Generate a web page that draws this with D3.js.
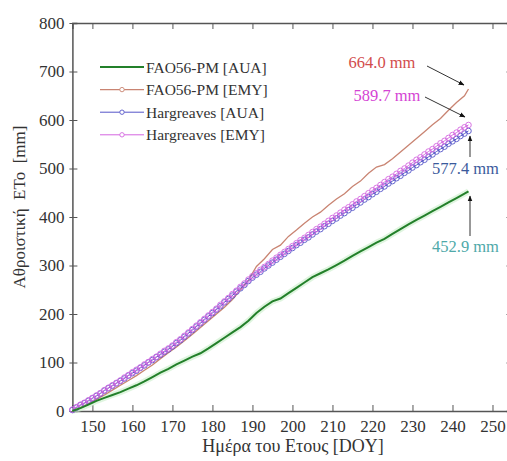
<!DOCTYPE html>
<html>
<head>
<meta charset="utf-8">
<script src="https://cdn.jsdelivr.net/npm/d3@7"></script>
<style>
  body { margin: 0; background: #fff; }
  svg text { font-family: "Liberation Serif", "DejaVu Serif", serif; }
  .axis path, .axis line { stroke: #555; }
  .axis text { font-size: 17px; fill: #333; }
</style>
</head>
<body>
<div id="chart"></div>
<script>
// Days of year for the daily Hargreaves series
const hgDays = d3.range(145, 245);

// Hargreaves [AUA], cumulative ETo (mm)
const hgAua = [
  2, 7, 12, 16, 21, 26, 31, 36, 42, 47,
  52, 57, 62, 67, 73, 78, 83, 89, 94, 100,
  105, 111, 116, 122, 127, 133, 140, 146, 153, 160,
  167, 174, 181, 188, 195, 202, 209, 216, 224, 231,
  238, 246, 253, 260, 268, 275, 281, 287, 294, 300,
  306, 312, 318, 324, 330, 336, 342, 347, 353, 358,
  364, 370, 375, 381, 386, 392, 397, 403, 408, 414,
  419, 425, 430, 436, 441, 447, 452, 458, 463, 469,
  474, 480, 485, 491, 496, 502, 507, 513, 518, 524,
  529, 535, 540, 545, 551, 556, 561, 567, 572, 577.4
];

// Hargreaves [EMY], cumulative ETo (mm)
const hgEmy = [
  3, 8, 13, 17, 22, 27, 32, 37, 43, 48,
  53, 58, 63, 69, 74, 80, 85, 90, 96, 101,
  107, 112, 118, 124, 129, 135, 142, 148, 155, 162,
  169, 176, 183, 190, 197, 204, 211, 219, 226, 233,
  241, 248, 256, 263, 271, 278, 284, 291, 297, 303,
  310, 316, 322, 328, 334, 340, 346, 352, 357, 363,
  369, 375, 380, 386, 392, 398, 403, 409, 415, 420,
  426, 432, 437, 443, 449, 455, 460, 466, 472, 478,
  483, 489, 495, 500, 506, 512, 518, 523, 529, 535,
  540, 546, 552, 557, 563, 569, 574, 580, 585, 589.7
];

// Days of year for the FAO56-PM series
const faoDays = [145, 147, 149, 151, 153, 155, 157, 159, 161, 163, 165, 167, 169, 171, 173,
  175, 177, 179, 181, 183, 185, 187, 189, 191, 193, 195, 197, 199, 201, 203, 205,
  207, 209, 211, 213, 215, 217, 219, 221, 223, 225, 227, 229, 231, 233, 235, 237,
  239, 241, 243, 244];

// FAO56-PM [AUA]
const faoAua = [0, 6, 13, 21, 27, 33, 39, 46, 53, 61, 70, 79, 87, 96, 104,
  112, 119, 129, 140, 151, 162, 173, 186, 202, 215, 226, 232, 243, 254, 265, 276,
  284, 292, 301, 310, 320, 329, 338, 347, 355, 365, 375, 385, 394, 403, 412, 421,
  430, 439, 448, 452.9];

// FAO56-PM [EMY]
const faoEmy = [0, 7, 15, 24, 33, 43, 53, 63, 73, 84, 95, 108, 120, 132, 145,
  158, 172, 186, 200, 214, 230, 250, 270, 298, 314, 333, 342, 360, 373, 387, 400,
  410, 424, 437, 448, 463, 474, 490, 503, 508, 520, 534, 548, 562, 576, 590, 603,
  620, 636, 650, 664.0];

const xTicks = [150, 160, 170, 180, 190, 200, 210, 220, 230, 240, 250];
const yTicks = [0, 100, 200, 300, 400, 500, 600, 700, 800];

const series = [
  { name: "FAO56-PM [AUA]", days: faoDays, values: faoAua, color: "#23802a", width: 2, marker: false },
  { name: "FAO56-PM [EMY]", days: faoDays, values: faoEmy, color: "#c98472", width: 1.3, marker: false },
  { name: "Hargreaves [AUA]", days: hgDays, values: hgAua, color: "#5555c8", width: 1, marker: true },
  { name: "Hargreaves [EMY]", days: hgDays, values: hgEmy, color: "#d466e0", width: 1, marker: true }
];

const width = 507, height = 461;

const svg = d3.select("#chart").append("svg")
  .attr("width", width)
  .attr("height", height);

svg.append("rect").attr("width", width).attr("height", height).attr("fill", "#fff");

// plot box runs past the right edge of the window, as in the original crop
const x = d3.scaleLinear().domain([145, 255]).range([72.4, 512.5]);
const y = d3.scaleLinear().domain([0, 800]).range([411, 23]);

const serif = "Liberation Serif, DejaVu Serif, serif";

const defs = svg.append("defs");
defs.append("marker")
  .attr("id", "arrow")
  .attr("viewBox", "0 0 10 10")
  .attr("refX", 9).attr("refY", 5)
  .attr("markerWidth", 6).attr("markerHeight", 6)
  .attr("orient", "auto")
  .append("path")
  .attr("d", "M0,1 L10,5 L0,9 z")
  .attr("fill", "#111");

// axes, ticks pointing inward
svg.append("g").attr("class", "axis")
  .attr("transform", `translate(0,${y(0)})`)
  .call(d3.axisBottom(x).tickValues(xTicks).tickSize(-6).tickPadding(9).tickFormat(d3.format("d")))
  .call(g => g.attr("font-family", serif))
  .call(g => g.select(".domain").attr("stroke-width", 1.5));

svg.append("g").attr("class", "axis")
  .attr("transform", `translate(0,${y(800)})`)
  .call(d3.axisTop(x).tickValues(xTicks).tickSize(-6).tickFormat(""))
  .call(g => g.select(".domain").attr("stroke-width", 1.5));

svg.append("g").attr("class", "axis")
  .attr("transform", `translate(${x(145)},0)`)
  .call(d3.axisLeft(y).tickValues(yTicks).tickSize(-5).tickPadding(8))
  .call(g => g.attr("font-family", serif))
  .call(g => g.select(".domain").attr("stroke-width", 1.5))
  .call(g => g.selectAll(".tick line").attr("x1", -3).attr("x2", 5));

svg.append("g").attr("class", "axis")
  .attr("transform", `translate(${x(255)},0)`)
  .call(d3.axisRight(y).tickValues(yTicks).tickSize(-6).tickFormat(""))
  .call(g => g.select(".domain").attr("stroke-width", 1.5));

// axis titles
svg.append("text")
  .attr("x", 293).attr("y", 452)
  .attr("text-anchor", "middle")
  .attr("font-size", 18).attr("fill", "#333")
  .text("Ημέρα του Ετους [DOY]");

svg.append("text")
  .attr("transform", "translate(25,207) rotate(-90)")
  .attr("text-anchor", "middle")
  .attr("font-size", 17).attr("fill", "#333")
  .attr("xml:space", "preserve")
  .text("Αθροιστική  ΕΤο  [mm]");

// lines
const line = d3.line().x(d => x(d[0])).y(d => y(d[1]));
const plot = svg.append("g");

// soft halo around the green curve
plot.append("path")
  .datum(faoAua.map((v, i) => [faoDays[i], v]))
  .attr("fill", "none")
  .attr("stroke", "#c9efc9")
  .attr("stroke-width", 6)
  .attr("stroke-opacity", 0.6)
  .attr("d", line);

const order = [1, 2, 3, 0];
order.forEach(k => {
  const s = series[k];
  const pts = s.values.map((v, i) => [s.days[i], v]);
  plot.append("path")
    .datum(pts)
    .attr("fill", "none")
    .attr("stroke", s.color)
    .attr("stroke-width", s.width)
    .attr("d", line);
  if (s.marker) {
    plot.selectAll(null)
      .data(pts)
      .enter().append("circle")
      .attr("cx", d => x(d[0]))
      .attr("cy", d => y(d[1]))
      .attr("r", 2.8)
      .attr("fill", "none")
      .attr("stroke", s.color)
      .attr("stroke-width", 0.9);
  }
});

// legend
const legend = svg.append("g");
series.forEach((s, i) => {
  const ly = 67 + i * 22.6;
  legend.append("line")
    .attr("x1", 100).attr("x2", 144)
    .attr("y1", ly).attr("y2", ly)
    .attr("stroke", s.color)
    .attr("stroke-width", s.width);
  if (s.marker || i === 1) {
    legend.append("circle")
      .attr("cx", 122).attr("cy", ly).attr("r", 2.2)
      .attr("fill", "#fff").attr("stroke", s.color).attr("stroke-width", 0.9);
  }
  legend.append("text")
    .attr("x", 146).attr("y", ly + 5.5)
    .attr("font-size", 15.5).attr("fill", "#333")
    .text(s.name);
});

// end-value annotations
const notes = [
  { text: "664.0 mm", color: "#d24c4c", tx: 382, ty: 68, anchor: "middle", from: [427, 66], to: [464, 85] },
  { text: "589.7 mm", color: "#d444d4", tx: 387, ty: 101, anchor: "middle", from: [425, 97], to: [465, 117] },
  { text: "577.4 mm", color: "#3b5a9c", tx: 432, ty: 174, anchor: "start", from: [470, 157], to: [470, 136] },
  { text: "452.9 mm", color: "#4fa9a9", tx: 432, ty: 252, anchor: "start", from: [470, 236], to: [470, 196] }
];

notes.forEach(n => {
  svg.append("line")
    .attr("x1", n.from[0]).attr("y1", n.from[1])
    .attr("x2", n.to[0]).attr("y2", n.to[1])
    .attr("stroke", "#333").attr("stroke-width", 1)
    .attr("marker-end", "url(#arrow)");
  svg.append("text")
    .attr("x", n.tx).attr("y", n.ty)
    .attr("text-anchor", n.anchor)
    .attr("font-size", 16.5).attr("fill", n.color)
    .text(n.text);
});
</script>
</body>
</html>
